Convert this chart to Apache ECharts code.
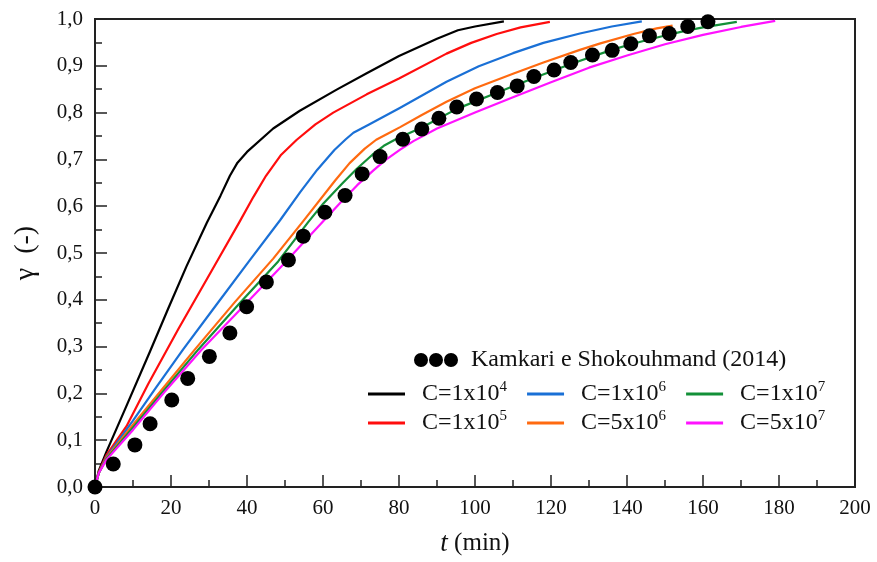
<!DOCTYPE html>
<html>
<head>
<meta charset="utf-8">
<script src="https://cdn.jsdelivr.net/npm/echarts@6/dist/echarts.min.js"></script>
<style>
  html, body { margin: 0; padding: 0; background: #fff; }
  #chart { width: 877px; height: 562px; }
</style>
</head>
<body>
<div id="chart"></div>
<script>
// Experimental melt fraction (Kamkari e Shokouhmand, 2014)
const expTime = [0, 4.8, 10.5, 14.5, 20.2, 24.4, 30.1, 35.5, 39.9, 45.1, 50.9, 54.8, 60.5, 65.8, 70.3, 75, 81, 86, 90.5, 95.2, 100.4, 105.9, 111.1, 115.5, 120.8, 125.2, 130.9, 136.1, 141, 145.9, 151.1, 156, 161.3];
const expGamma = [0, 0.049, 0.09, 0.135, 0.186, 0.232, 0.279, 0.329, 0.385, 0.438, 0.485, 0.536, 0.587, 0.623, 0.669, 0.706, 0.743, 0.765, 0.788, 0.812, 0.829, 0.843, 0.857, 0.877, 0.891, 0.907, 0.923, 0.933, 0.947, 0.964, 0.969, 0.984, 0.994];

// Simulated melt fraction for each mushy-zone constant C: [t (min), gamma]
const c1e4 = [[0, 0], [1, 0.035], [3, 0.075], [8, 0.168], [14.5, 0.29], [19.3, 0.382], [24.1, 0.472], [29.4, 0.564], [33, 0.622], [35.5, 0.665], [37.5, 0.693], [40, 0.716], [46.9, 0.766], [53.9, 0.804], [63.6, 0.849], [71.5, 0.884], [80, 0.921], [90, 0.958], [95.5, 0.976], [100, 0.984], [107.6, 0.995]];
const c1e5 = [[0, 0], [1, 0.032], [3, 0.068], [8.3, 0.13], [14, 0.22], [21.9, 0.337], [31.6, 0.475], [38, 0.566], [41.7, 0.62], [45, 0.665], [49, 0.71], [53.1, 0.742], [58, 0.775], [62.7, 0.8], [71.5, 0.839], [80, 0.873], [92.5, 0.926], [99, 0.949], [105.7, 0.968], [112, 0.982], [119.7, 0.994]];
const c1e6 = [[0, 0], [1, 0.03], [3, 0.064], [10, 0.142], [16, 0.212], [23.2, 0.294], [32, 0.39], [40.5, 0.482], [48.7, 0.57], [54, 0.63], [58.5, 0.678], [63, 0.72], [66, 0.743], [68, 0.757], [72, 0.774], [80.2, 0.81], [92.5, 0.866], [101, 0.899], [110, 0.927], [118, 0.949], [127.6, 0.969], [136, 0.984], [143.9, 0.995]];
const c5e6 = [[0, 0], [1, 0.03], [3, 0.062], [10, 0.133], [18, 0.212], [26.3, 0.294], [36.8, 0.395], [46.9, 0.488], [54.8, 0.568], [63.2, 0.655], [67, 0.692], [71, 0.723], [74, 0.742], [77, 0.755], [80.3, 0.769], [86, 0.795], [92.5, 0.823], [100, 0.852], [110, 0.883], [118, 0.907], [127.6, 0.934], [133, 0.948], [141.7, 0.968], [147.8, 0.98], [152, 0.986]];
const c1e7 = [[0, 0], [1, 0.03], [3, 0.06], [10, 0.127], [18, 0.205], [27.2, 0.294], [38, 0.392], [48.2, 0.482], [56.1, 0.566], [60.1, 0.606], [65, 0.648], [68.9, 0.68], [73, 0.71], [76, 0.729], [79.4, 0.744], [86, 0.768], [95.2, 0.808], [105.9, 0.843], [115.5, 0.874], [125.2, 0.904], [136, 0.934], [141, 0.946], [148.7, 0.962], [155, 0.974], [160, 0.982], [168.9, 0.994]];
const c5e7 = [[0, 0], [1, 0.03], [3, 0.058], [10, 0.122], [18, 0.2], [28.1, 0.294], [39.5, 0.39], [49.6, 0.476], [57, 0.541], [64.5, 0.607], [69, 0.645], [73.2, 0.676], [76.5, 0.699], [80.3, 0.721], [83.8, 0.739], [90, 0.766], [100, 0.8], [110, 0.833], [120, 0.865], [130, 0.896], [140, 0.922], [150, 0.946], [160, 0.966], [170, 0.983], [179, 0.996]];

const xTicks = { min: 0, max: 200, step: 20 };
const yTicks = { min: 0, max: 1, step: 0.1 };

const FONT = 'Liberation Serif';
const INK = '#111111';

const curves = [
  { name: 'C=1x10^4', data: c1e4, color: '#000000' },
  { name: 'C=1x10^5', data: c1e5, color: '#ff0d0d' },
  { name: 'C=1x10^6', data: c1e6, color: '#1a70d6' },
  { name: 'C=5x10^6', data: c5e6, color: '#ff6a10' },
  { name: 'C=1x10^7', data: c1e7, color: '#139038' },
  { name: 'C=5x10^7', data: c5e7, color: '#ff12ff' }
];
const expName = 'Kamkari e Shokouhmand (2014)';

const supFormatter = name => name.replace(/\^(\d+)/, '{sup|$1}');
const legendText = {
  fontFamily: FONT, fontSize: 24, color: INK, padding: [0, 0, 0, 12],
  rich: { sup: { fontFamily: FONT, fontSize: 15, color: INK, padding: [0, 0, 13, 0] } }
};
const lineLegend = (names, top) => ({
  data: names, left: 363, top: top, orient: 'horizontal',
  icon: 'rect', itemWidth: 37, itemHeight: 3, itemGap: 20,
  formatter: supFormatter, textStyle: legendText, selectedMode: false
});

const chart = echarts.init(document.getElementById('chart'), null, { renderer: 'canvas' });
chart.setOption({
  animation: false,
  backgroundColor: '#fff',
  grid: { left: 95, right: 22, top: 19, bottom: 74, show: true, borderColor: '#222', borderWidth: 2, backgroundColor: 'transparent' },
  legend: [
    {
      data: [expName], left: 409, top: 343, itemWidth: 44, itemHeight: 14, selectedMode: false,
      icon: 'path://M0,7a7,7 0 1,0 14,0a7,7 0 1,0 -14,0zM15,7a7,7 0 1,0 14,0a7,7 0 1,0 -14,0zM30,7a7,7 0 1,0 14,0a7,7 0 1,0 -14,0z',
      itemStyle: { color: '#000', opacity: 1 },
      textStyle: { fontFamily: FONT, fontSize: 24, color: INK, padding: [0, 0, 0, 8] }
    },
    lineLegend(['C=1x10^4', 'C=1x10^6', 'C=1x10^7'], 375),
    lineLegend(['C=1x10^5', 'C=5x10^6', 'C=5x10^7'], 404)
  ],
  xAxis: {
    type: 'value', min: xTicks.min, max: xTicks.max, interval: xTicks.step,
    name: '{it|t} (min)', nameLocation: 'middle', nameGap: 43,
    nameTextStyle: { fontFamily: FONT, fontSize: 25, color: INK, rich: { it: { fontFamily: FONT, fontSize: 27, fontStyle: 'italic', color: INK } } },
    axisLine: { show: true, lineStyle: { color: '#222', width: 2 } },
    axisTick: { show: true, inside: true, length: 12, lineStyle: { color: '#222', width: 1.5 } },
    minorTick: { show: true, splitNumber: 2, length: 7, lineStyle: { color: '#222', width: 1.5 } },
    axisLabel: { fontFamily: FONT, fontSize: 21, color: INK, margin: 11 },
    splitLine: { show: false }
  },
  yAxis: {
    type: 'value', min: yTicks.min, max: yTicks.max, interval: yTicks.step,
    name: 'γ  (-)', nameLocation: 'middle', nameGap: 55,
    nameTextStyle: { fontFamily: FONT, fontSize: 28, color: INK },
    axisLine: { show: true, lineStyle: { color: '#222', width: 2 } },
    axisTick: { show: true, inside: true, length: 12, lineStyle: { color: '#222', width: 1.5 } },
    minorTick: { show: true, splitNumber: 2, length: 7, lineStyle: { color: '#222', width: 1.5 } },
    axisLabel: { fontFamily: FONT, fontSize: 21, color: INK, margin: 12, formatter: v => v.toFixed(1).replace('.', ',') },
    splitLine: { show: false }
  },
  series: curves.map(c => ({
    name: c.name, type: 'line', data: c.data, showSymbol: false, symbol: 'none',
    smooth: false,
    lineStyle: { color: c.color, width: 2.2, join: 'round' }, itemStyle: { color: c.color }, z: 3
  })).concat([{
    name: expName, type: 'scatter', data: expTime.map((t, i) => [t, expGamma[i]]),
    symbol: 'circle', symbolSize: 15, itemStyle: { color: '#000', opacity: 1 }, z: 5
  }])
});
</script>
</body>
</html>
